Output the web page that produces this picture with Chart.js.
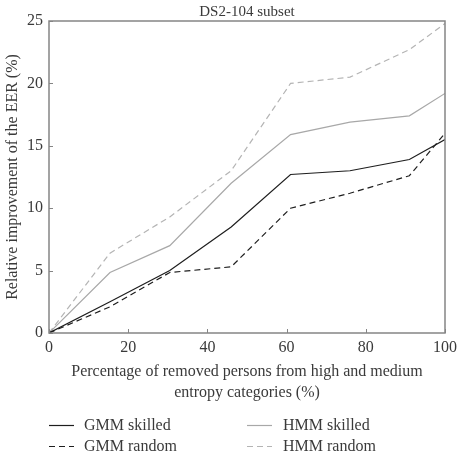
<!DOCTYPE html>
<html>
<head>
<meta charset="utf-8">
<script src="https://cdn.jsdelivr.net/npm/chart.js@4.4.1/dist/chart.umd.min.js"></script>
<style>
  html, body { margin: 0; padding: 0; background: #fff; }
  #wrap { width: 463px; height: 452px; }
</style>
</head>
<body>
<div id="wrap"><canvas id="eerChart" width="463" height="452"></canvas></div>
<script>
// share of removed persons (%)
const removedPct = [0, 15.4, 30.5, 46, 61, 76, 91, 100];
const gmmSkilled = [0, 2.5, 5.0, 8.5, 12.7, 13.0, 13.9, 15.5];
const gmmRandom = [0, 2.1, 4.85, 5.3, 10.0, 11.2, 12.6, 16.0];
const hmmSkilled = [0, 4.85, 7.0, 12.0, 15.9, 16.9, 17.4, 19.2];
const hmmRandom = [0, 6.4, 9.3, 13.0, 20.0, 20.5, 22.7, 24.8];
const xTicks = [0, 20, 40, 60, 80, 100];
const yTicks = [0, 5, 10, 15, 20, 25];

const serif = '"Liberation Serif", "DejaVu Serif", serif';
const textColor = '#3a3a3a';
const frameColor = '#858585';

function toPoints(values) {
    return values.map((v, i) => ({ x: removedPct[i], y: v }));
}

// box around plot + tick marks pointing inwards
const framePlugin = {
    id: 'frame',
    afterDatasetsDraw(chart) {
        const ctx = chart.ctx;
        const a = chart.chartArea;
        const xs = chart.scales.x;
        const ys = chart.scales.y;
        ctx.save();
        ctx.strokeStyle = frameColor;
        ctx.lineWidth = 1.5;
        ctx.strokeRect(a.left, a.top, a.right - a.left, a.bottom - a.top);
        ctx.lineWidth = 1;
        xTicks.forEach(t => {
            const px = Math.round(xs.getPixelForValue(t)) + 0.5;
            ctx.beginPath();
            ctx.moveTo(px, a.bottom);
            ctx.lineTo(px, a.bottom - 4);
            ctx.stroke();
        });
        yTicks.forEach(t => {
            const py = Math.round(ys.getPixelForValue(t)) + 0.5;
            ctx.beginPath();
            ctx.moveTo(a.left, py);
            ctx.lineTo(a.left + 4, py);
            ctx.stroke();
        });
        ctx.restore();
    }
};

// two column legend under the axis title
const legendPlugin = {
    id: 'twoColLegend',
    afterDraw(chart) {
        const ctx = chart.ctx;
        const cols = [{ line: 49, text: 84 }, { line: 247, text: 283 }];
        const rows = [425, 446];
        ctx.save();
        ctx.font = '16px ' + serif;
        ctx.textBaseline = 'middle';
        chart.data.datasets.forEach((ds, i) => {
            const c = cols[Math.floor(i / 2)];
            const y = rows[i % 2] + 0.5;
            ctx.strokeStyle = ds.borderColor;
            ctx.lineWidth = ds.borderWidth;
            ctx.setLineDash(ds.borderDash || []);
            ctx.beginPath();
            ctx.moveTo(c.line, y);
            ctx.lineTo(c.line + 25, y);
            ctx.stroke();
            ctx.setLineDash([]);
            ctx.fillStyle = textColor;
            ctx.fillText(ds.label, c.text, y);
        });
        ctx.restore();
    }
};

new Chart(document.getElementById('eerChart').getContext('2d'), {
    type: 'line',
    data: {
        datasets: [
            { label: 'GMM skilled', data: toPoints(gmmSkilled), borderColor: '#1e1e1e', borderWidth: 1.2 },
            { label: 'GMM random', data: toPoints(gmmRandom), borderColor: '#1e1e1e', borderWidth: 1.2, borderDash: [6, 4] },
            { label: 'HMM skilled', data: toPoints(hmmSkilled), borderColor: '#a8a8a8', borderWidth: 1.2 },
            { label: 'HMM random', data: toPoints(hmmRandom), borderColor: '#b4b4b4', borderWidth: 1.2, borderDash: [6, 4] }
        ]
    },
    options: {
        responsive: false,
        animation: false,
        elements: { point: { radius: 0 }, line: { tension: 0 } },
        layout: { padding: { top: 0, right: 18, bottom: 49, left: 0 } },
        plugins: {
            legend: { display: false },
            tooltip: { enabled: false },
            title: {
                display: true,
                fullSize: false,
                text: 'DS2-104 subset',
                color: textColor,
                font: { family: serif, size: 15, weight: 'normal' },
                padding: { top: 3, bottom: 0 }
            }
        },
        scales: {
            x: {
                type: 'linear',
                min: 0,
                max: 100,
                grid: { display: false, drawTicks: false },
                border: { display: false },
                afterBuildTicks: s => { s.ticks = xTicks.map(v => ({ value: v })); },
                afterFit: s => { s.height = 70; },
                ticks: { color: textColor, font: { family: serif, size: 16 }, padding: 5, maxRotation: 0 },
                title: {
                    display: true,
                    text: ['Percentage of removed persons from high and medium', 'entropy categories (%)'],
                    color: textColor,
                    font: { family: serif, size: 16, lineHeight: 1.3 },
                    padding: { top: 4, bottom: 0 }
                }
            },
            y: {
                min: 0,
                max: 25,
                grid: { display: false, drawTicks: false },
                border: { display: false },
                afterBuildTicks: s => { s.ticks = yTicks.map(v => ({ value: v })); },
                afterFit: s => { s.width = 49; },
                ticks: { color: textColor, font: { family: serif, size: 16 }, padding: 6 },
                title: {
                    display: true,
                    text: 'Relative improvement of the EER (%)',
                    color: textColor,
                    font: { family: serif, size: 16 },
                    padding: { top: 3, bottom: 2 }
                }
            }
        }
    },
    plugins: [framePlugin, legendPlugin]
});
</script>
</body>
</html>
